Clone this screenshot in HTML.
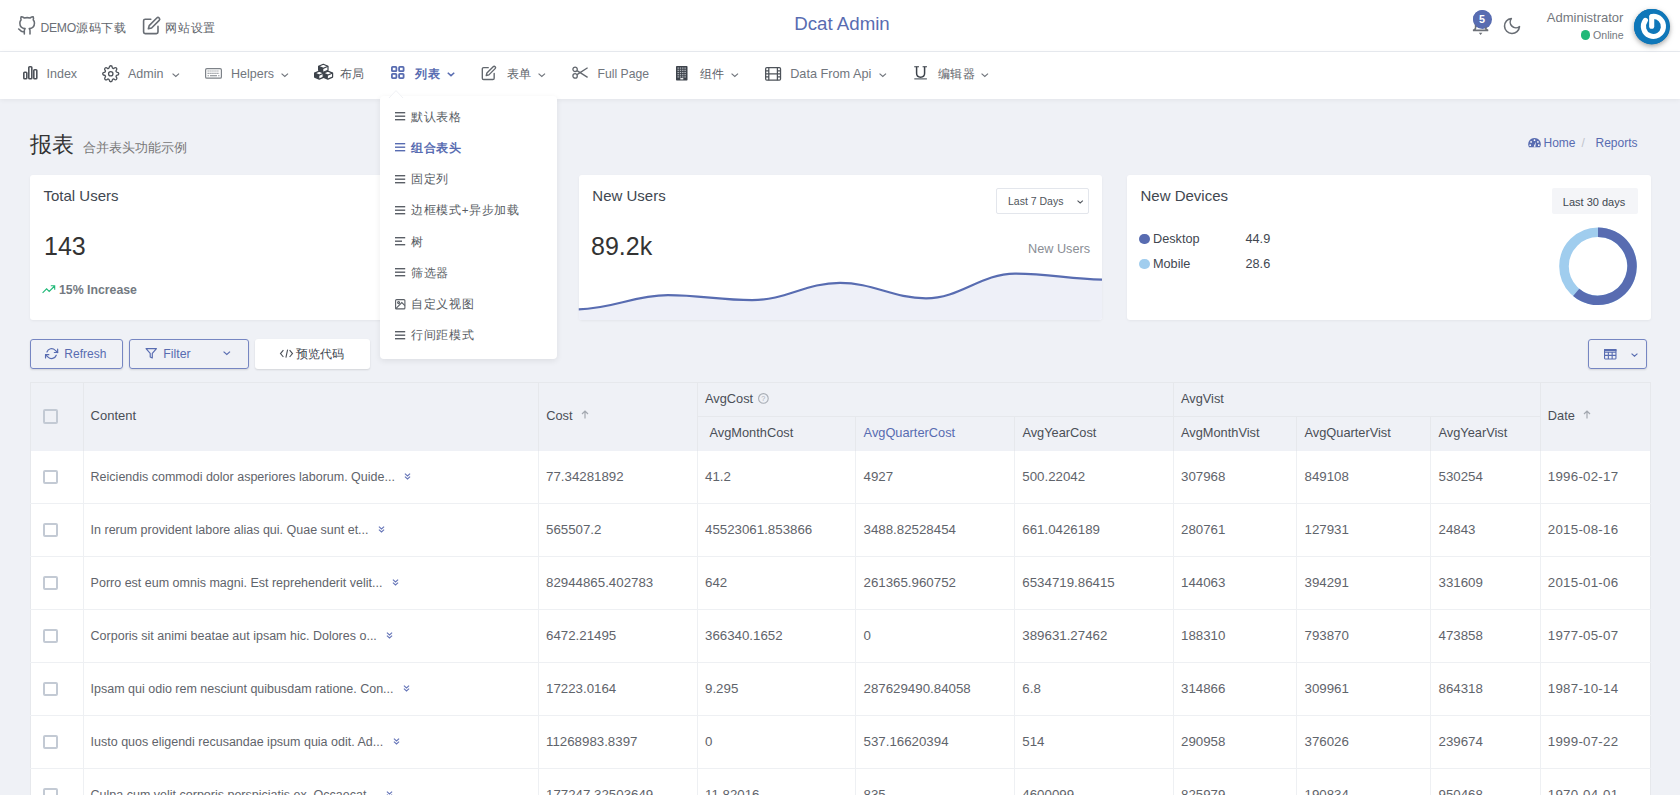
<!DOCTYPE html><html><head><meta charset="utf-8"><style>
*{box-sizing:border-box;margin:0;padding:0}
html,body{width:1680px;height:795px;overflow:hidden;background:#eff1f6;font-family:"Liberation Sans",sans-serif;color:#414750;position:relative}
.t{position:absolute;white-space:nowrap}
.bx{position:absolute}
svg{position:absolute;overflow:visible}
#top{position:absolute;left:0;top:0;width:1680px;height:52px;background:#fff;border-bottom:1px solid #e9ecf1}
#nav{position:absolute;left:0;top:52px;width:1680px;height:47px;background:#fff;box-shadow:0 1px 5px rgba(0,0,0,.06)}
.card{position:absolute;background:#fff;border-radius:3px;box-shadow:0 1px 3px rgba(0,0,0,.05)}
.btn{position:absolute;top:339px;height:30px;border:1px solid #7686c2;border-radius:3px;box-shadow:0 1px 2px rgba(0,0,0,.12)}
</style></head><body><div id="top"></div><div id="nav"></div><span class="t" style="left:40.5px;top:21.9px;font-size:12px;line-height:12px;color:#5d6269;font-weight:normal;letter-spacing:0.8px;"><span style="font-size:12.2px;letter-spacing:-0.3px;color:#6b7077">DEMO</span>源码下载</span><span class="t" style="left:165.0px;top:21.5px;font-size:12px;line-height:12px;color:#5d6269;font-weight:normal;letter-spacing:0.8px;">网站设置</span><span class="t" style="left:794.2px;top:14.7px;font-size:18.7px;line-height:18.7px;color:#586cb1;font-weight:normal;">Dcat Admin</span><span class="t" style="left:1546.8px;top:10.8px;font-size:13px;line-height:13px;color:#74787e;font-weight:normal;">Administrator</span><div class="bx" style="left:1580.5px;top:30.2px;width:9.5px;height:9.5px;border-radius:50%;background:#21b978"></div><span class="t" style="left:1593.0px;top:30.2px;font-size:10.6px;line-height:10.6px;color:#74787e;font-weight:normal;">Online</span><div class="bx" style="left:1473px;top:9.5px;width:19px;height:19px;border-radius:50%;background:#586cb1"></div><span class="t" style="left:1478.8px;top:13.9px;font-size:11px;line-height:11px;color:#fff;font-weight:bold;">5</span><div class="bx" style="left:1634px;top:8.5px;width:35.5px;height:35.5px;border-radius:50%;background:#0f77b9;box-shadow:0 2px 4px rgba(0,0,0,.2)"></div><span class="t" style="left:46.5px;top:67.5px;font-size:12.5px;line-height:12.5px;color:#71767d;font-weight:normal;">Index</span><span class="t" style="left:128.0px;top:67.5px;font-size:12.5px;line-height:12.5px;color:#71767d;font-weight:normal;">Admin</span><span class="t" style="left:231.0px;top:67.5px;font-size:12.5px;line-height:12.5px;color:#71767d;font-weight:normal;">Helpers</span><span class="t" style="left:339.5px;top:68.1px;font-size:11.6px;line-height:11.6px;color:#5d6269;font-weight:normal;letter-spacing:0.9px;">布局</span><span class="t" style="left:414.7px;top:68.1px;font-size:11.6px;line-height:11.6px;color:#586cb1;font-weight:bold;letter-spacing:0.9px;">列表</span><span class="t" style="left:506.5px;top:68.1px;font-size:11.6px;line-height:11.6px;color:#5d6269;font-weight:normal;letter-spacing:0.9px;">表单</span><span class="t" style="left:597.5px;top:67.8px;font-size:12.2px;line-height:12.2px;color:#71767d;font-weight:normal;">Full Page</span><span class="t" style="left:699.5px;top:68.1px;font-size:11.6px;line-height:11.6px;color:#5d6269;font-weight:normal;letter-spacing:0.9px;">组件</span><span class="t" style="left:790.2px;top:67.8px;font-size:12.7px;line-height:12.7px;color:#71767d;font-weight:normal;">Data From Api</span><span class="t" style="left:937.5px;top:67.9px;font-size:11.6px;line-height:11.6px;color:#5d6269;font-weight:normal;letter-spacing:0.5px;">编辑器</span><span class="t" style="left:30.0px;top:133.6px;font-size:22px;line-height:22px;color:#333;font-weight:normal;">报表</span><span class="t" style="left:83.0px;top:140.9px;font-size:13.3px;line-height:13.3px;color:#777;font-weight:normal;">合并表头功能示例</span><span class="t" style="left:1543.5px;top:136.5px;font-size:12px;line-height:12px;color:#586cb1;font-weight:normal;">Home</span><span class="t" style="left:1581.5px;top:136.5px;font-size:12px;line-height:12px;color:#c0c4cc;font-weight:normal;">/</span><span class="t" style="left:1595.5px;top:136.5px;font-size:12px;line-height:12px;color:#586cb1;font-weight:normal;">Reports</span><div class="card" style="left:30px;top:175px;width:524px;height:145px"></div><div class="card" style="left:578.5px;top:175px;width:523.5px;height:145px"></div><div class="card" style="left:1127px;top:175px;width:523.5px;height:145px"></div><span class="t" style="left:43.5px;top:188.4px;font-size:15px;line-height:15px;color:#414750;font-weight:normal;">Total Users</span><span class="t" style="left:44.0px;top:233.5px;font-size:25px;line-height:25px;color:#333;font-weight:normal;">143</span><span class="t" style="left:59.0px;top:283.5px;font-size:12.3px;line-height:12.3px;color:#737981;font-weight:bold;">15% Increase</span><span class="t" style="left:592.3px;top:188.2px;font-size:15px;line-height:15px;color:#414750;font-weight:normal;">New Users</span><span class="t" style="left:591.0px;top:234.0px;font-size:25px;line-height:25px;color:#333;font-weight:normal;">89.2k</span><div class="bx" style="left:996px;top:188px;width:93px;height:26px;border:1px solid #e3e6ec;border-radius:2px"></div><span class="t" style="left:1008.0px;top:196.2px;font-size:10.5px;line-height:10.5px;color:#50555c;font-weight:normal;">Last 7 Days</span><span class="t" style="left:1028.0px;top:242.9px;font-size:12.7px;line-height:12.7px;color:#8a8e95;font-weight:normal;">New Users</span><span class="t" style="left:1140.5px;top:188.2px;font-size:15px;line-height:15px;color:#414750;font-weight:normal;">New Devices</span><div class="bx" style="left:1552px;top:188.3px;width:85.5px;height:25.7px;background:#f4f5f8;border-radius:2px"></div><span class="t" style="left:1562.8px;top:196.7px;font-size:11px;line-height:11px;color:#414750;font-weight:normal;">Last 30 days</span><div class="bx" style="left:1139.3px;top:233.5px;width:10.5px;height:10.5px;border-radius:50%;background:#586cb1"></div><div class="bx" style="left:1139.3px;top:258.5px;width:10.5px;height:10.5px;border-radius:50%;background:#a0cdee"></div><span class="t" style="left:1153.0px;top:233.4px;font-size:12.7px;line-height:12.7px;color:#414750;font-weight:normal;">Desktop</span><span class="t" style="left:1153.0px;top:258.4px;font-size:12.7px;line-height:12.7px;color:#414750;font-weight:normal;">Mobile</span><span class="t" style="left:1245.5px;top:233.4px;font-size:12.7px;line-height:12.7px;color:#414750;font-weight:normal;">44.9</span><span class="t" style="left:1245.5px;top:258.4px;font-size:12.7px;line-height:12.7px;color:#414750;font-weight:normal;">28.6</span><div class="btn" style="left:30px;width:92.5px"></div><div class="btn" style="left:129px;width:119.5px"></div><div class="bx" style="left:255px;top:339px;width:115px;height:30px;background:#fff;border-radius:3px;box-shadow:0 1px 2px rgba(0,0,0,.12)"></div><span class="t" style="left:64.3px;top:347.9px;font-size:12px;line-height:12px;color:#586cb1;font-weight:normal;">Refresh</span><span class="t" style="left:163.3px;top:348.4px;font-size:12.3px;line-height:12.3px;color:#586cb1;font-weight:normal;">Filter</span><span class="t" style="left:296.3px;top:347.9px;font-size:12.3px;line-height:12.3px;color:#414750;font-weight:normal;">预览代码</span><svg style="left:279px;top:348px" width="16" height="12" viewBox="0 0 16 12"><path d="M4.4 2.2 L1.5 5.6 L4.4 9.0 M8.6 1.6 L6.9 9.6 M10.6 2.2 L13.5 5.6 L10.6 9.0" fill="none" stroke="#4a4f57" stroke-width="1.1"/></svg><div class="btn" style="left:1588px;width:58.5px"></div><div class="bx" style="left:30px;top:382px;width:1621px;height:69px;background:#eff1f6;border:1px solid #e6e8ec;border-bottom:none"></div><div class="bx" style="left:30px;top:451px;width:1621px;height:344px;background:#fff;border-left:1px solid #e6e8ec;border-right:1px solid #e6e8ec"></div><div class="bx" style="left:83px;top:382px;width:1px;height:69px;background:#e6e8ec"></div><div class="bx" style="left:538px;top:382px;width:1px;height:69px;background:#e6e8ec"></div><div class="bx" style="left:697px;top:382px;width:1px;height:69px;background:#e6e8ec"></div><div class="bx" style="left:855px;top:416px;width:1px;height:35px;background:#e6e8ec"></div><div class="bx" style="left:1014px;top:416px;width:1px;height:35px;background:#e6e8ec"></div><div class="bx" style="left:1173px;top:382px;width:1px;height:69px;background:#e6e8ec"></div><div class="bx" style="left:1296px;top:416px;width:1px;height:35px;background:#e6e8ec"></div><div class="bx" style="left:1430px;top:416px;width:1px;height:35px;background:#e6e8ec"></div><div class="bx" style="left:1540px;top:382px;width:1px;height:69px;background:#e6e8ec"></div><div class="bx" style="left:697px;top:416px;width:843px;height:1px;background:#e6e8ec"></div><div class="bx" style="left:83px;top:451px;width:1px;height:344px;background:#eef0f3"></div><div class="bx" style="left:538px;top:451px;width:1px;height:344px;background:#eef0f3"></div><div class="bx" style="left:697px;top:451px;width:1px;height:344px;background:#eef0f3"></div><div class="bx" style="left:855px;top:451px;width:1px;height:344px;background:#eef0f3"></div><div class="bx" style="left:1014px;top:451px;width:1px;height:344px;background:#eef0f3"></div><div class="bx" style="left:1173px;top:451px;width:1px;height:344px;background:#eef0f3"></div><div class="bx" style="left:1296px;top:451px;width:1px;height:344px;background:#eef0f3"></div><div class="bx" style="left:1430px;top:451px;width:1px;height:344px;background:#eef0f3"></div><div class="bx" style="left:1540px;top:451px;width:1px;height:344px;background:#eef0f3"></div><div class="bx" style="left:30px;top:503px;width:1621px;height:1px;background:#eef0f3"></div><div class="bx" style="left:30px;top:556px;width:1621px;height:1px;background:#eef0f3"></div><div class="bx" style="left:30px;top:609px;width:1621px;height:1px;background:#eef0f3"></div><div class="bx" style="left:30px;top:662px;width:1621px;height:1px;background:#eef0f3"></div><div class="bx" style="left:30px;top:715px;width:1621px;height:1px;background:#eef0f3"></div><div class="bx" style="left:30px;top:768px;width:1621px;height:1px;background:#eef0f3"></div><div class="bx" style="left:30px;top:821px;width:1621px;height:1px;background:#eef0f3"></div><div class="bx" style="left:43.2px;top:409.1px;width:14.6px;height:14.6px;border:2px solid #c3cad4;border-radius:2px"></div><span class="t" style="left:90.6px;top:408.7px;font-size:13px;line-height:13px;color:#4a4f57;font-weight:normal;">Content</span><span class="t" style="left:546.2px;top:409.7px;font-size:12.8px;line-height:12.8px;color:#4a4f57;font-weight:normal;">Cost</span><span class="t" style="left:705.0px;top:393.0px;font-size:12.8px;line-height:12.8px;color:#4a4f57;font-weight:normal;">AvgCost</span><span class="t" style="left:709.5px;top:427.2px;font-size:12.8px;line-height:12.8px;color:#4a4f57;font-weight:normal;">AvgMonthCost</span><span class="t" style="left:863.6px;top:427.2px;font-size:12.8px;line-height:12.8px;color:#586cb1;font-weight:normal;">AvgQuarterCost</span><span class="t" style="left:1022.4px;top:427.2px;font-size:12.8px;line-height:12.8px;color:#4a4f57;font-weight:normal;">AvgYearCost</span><span class="t" style="left:1181.0px;top:393.0px;font-size:12.8px;line-height:12.8px;color:#4a4f57;font-weight:normal;">AvgVist</span><span class="t" style="left:1181.0px;top:427.2px;font-size:12.8px;line-height:12.8px;color:#4a4f57;font-weight:normal;">AvgMonthVist</span><span class="t" style="left:1304.5px;top:427.2px;font-size:12.8px;line-height:12.8px;color:#4a4f57;font-weight:normal;">AvgQuarterVist</span><span class="t" style="left:1438.5px;top:427.2px;font-size:12.8px;line-height:12.8px;color:#4a4f57;font-weight:normal;">AvgYearVist</span><span class="t" style="left:1547.8px;top:409.7px;font-size:12.8px;line-height:12.8px;color:#4a4f57;font-weight:normal;">Date</span><div class="bx" style="left:43.2px;top:469.6px;width:14.6px;height:14.6px;border:2px solid #c3cad4;border-radius:2px"></div><span class="t" style="left:90.6px;top:470.8px;font-size:12.5px;line-height:12.5px;color:#5f646b;font-weight:normal;">Reiciendis commodi dolor asperiores laborum. Quide...<span class="chev" style="display:inline-block;width:9px;height:9px;margin-left:8.5px;position:relative;top:0px"><svg width="9" height="9" viewBox="0 0 9 9" style="left:0;top:0px"><path d="M1.9 1.6 L4.5 3.9 L7.1 1.6 M1.9 4.6 L4.5 6.9 L7.1 4.6" fill="none" stroke="#6575b8" stroke-width="1.15"/></svg></span></span><span class="t" style="left:546.0px;top:470.1px;font-size:13.3px;line-height:13.3px;color:#5f646b;font-weight:normal;">77.34281892</span><span class="t" style="left:705.0px;top:470.1px;font-size:13.3px;line-height:13.3px;color:#5f646b;font-weight:normal;">41.2</span><span class="t" style="left:863.5px;top:470.1px;font-size:13.3px;line-height:13.3px;color:#5f646b;font-weight:normal;">4927</span><span class="t" style="left:1022.3px;top:470.1px;font-size:13.3px;line-height:13.3px;color:#5f646b;font-weight:normal;">500.22042</span><span class="t" style="left:1181.0px;top:470.1px;font-size:13.3px;line-height:13.3px;color:#5f646b;font-weight:normal;">307968</span><span class="t" style="left:1304.5px;top:470.1px;font-size:13.3px;line-height:13.3px;color:#5f646b;font-weight:normal;">849108</span><span class="t" style="left:1438.5px;top:470.1px;font-size:13.3px;line-height:13.3px;color:#5f646b;font-weight:normal;">530254</span><span class="t" style="left:1547.8px;top:470.1px;font-size:13.3px;line-height:13.3px;color:#5f646b;font-weight:normal;letter-spacing:0.25px;">1996-02-17</span><div class="bx" style="left:43.2px;top:522.6px;width:14.6px;height:14.6px;border:2px solid #c3cad4;border-radius:2px"></div><span class="t" style="left:90.6px;top:523.8px;font-size:12.5px;line-height:12.5px;color:#5f646b;font-weight:normal;">In rerum provident labore alias qui. Quae sunt et...<span class="chev" style="display:inline-block;width:9px;height:9px;margin-left:8.5px;position:relative;top:0px"><svg width="9" height="9" viewBox="0 0 9 9" style="left:0;top:0px"><path d="M1.9 1.6 L4.5 3.9 L7.1 1.6 M1.9 4.6 L4.5 6.9 L7.1 4.6" fill="none" stroke="#6575b8" stroke-width="1.15"/></svg></span></span><span class="t" style="left:546.0px;top:523.1px;font-size:13.3px;line-height:13.3px;color:#5f646b;font-weight:normal;">565507.2</span><span class="t" style="left:705.0px;top:523.1px;font-size:13.3px;line-height:13.3px;color:#5f646b;font-weight:normal;">45523061.853866</span><span class="t" style="left:863.5px;top:523.1px;font-size:13.3px;line-height:13.3px;color:#5f646b;font-weight:normal;">3488.82528454</span><span class="t" style="left:1022.3px;top:523.1px;font-size:13.3px;line-height:13.3px;color:#5f646b;font-weight:normal;">661.0426189</span><span class="t" style="left:1181.0px;top:523.1px;font-size:13.3px;line-height:13.3px;color:#5f646b;font-weight:normal;">280761</span><span class="t" style="left:1304.5px;top:523.1px;font-size:13.3px;line-height:13.3px;color:#5f646b;font-weight:normal;">127931</span><span class="t" style="left:1438.5px;top:523.1px;font-size:13.3px;line-height:13.3px;color:#5f646b;font-weight:normal;">24843</span><span class="t" style="left:1547.8px;top:523.1px;font-size:13.3px;line-height:13.3px;color:#5f646b;font-weight:normal;letter-spacing:0.25px;">2015-08-16</span><div class="bx" style="left:43.2px;top:575.6px;width:14.6px;height:14.6px;border:2px solid #c3cad4;border-radius:2px"></div><span class="t" style="left:90.6px;top:576.8px;font-size:12.5px;line-height:12.5px;color:#5f646b;font-weight:normal;">Porro est eum omnis magni. Est reprehenderit velit...<span class="chev" style="display:inline-block;width:9px;height:9px;margin-left:8.5px;position:relative;top:0px"><svg width="9" height="9" viewBox="0 0 9 9" style="left:0;top:0px"><path d="M1.9 1.6 L4.5 3.9 L7.1 1.6 M1.9 4.6 L4.5 6.9 L7.1 4.6" fill="none" stroke="#6575b8" stroke-width="1.15"/></svg></span></span><span class="t" style="left:546.0px;top:576.1px;font-size:13.3px;line-height:13.3px;color:#5f646b;font-weight:normal;">82944865.402783</span><span class="t" style="left:705.0px;top:576.1px;font-size:13.3px;line-height:13.3px;color:#5f646b;font-weight:normal;">642</span><span class="t" style="left:863.5px;top:576.1px;font-size:13.3px;line-height:13.3px;color:#5f646b;font-weight:normal;">261365.960752</span><span class="t" style="left:1022.3px;top:576.1px;font-size:13.3px;line-height:13.3px;color:#5f646b;font-weight:normal;">6534719.86415</span><span class="t" style="left:1181.0px;top:576.1px;font-size:13.3px;line-height:13.3px;color:#5f646b;font-weight:normal;">144063</span><span class="t" style="left:1304.5px;top:576.1px;font-size:13.3px;line-height:13.3px;color:#5f646b;font-weight:normal;">394291</span><span class="t" style="left:1438.5px;top:576.1px;font-size:13.3px;line-height:13.3px;color:#5f646b;font-weight:normal;">331609</span><span class="t" style="left:1547.8px;top:576.1px;font-size:13.3px;line-height:13.3px;color:#5f646b;font-weight:normal;letter-spacing:0.25px;">2015-01-06</span><div class="bx" style="left:43.2px;top:628.6px;width:14.6px;height:14.6px;border:2px solid #c3cad4;border-radius:2px"></div><span class="t" style="left:90.6px;top:629.8px;font-size:12.5px;line-height:12.5px;color:#5f646b;font-weight:normal;">Corporis sit animi beatae aut ipsam hic. Dolores o...<span class="chev" style="display:inline-block;width:9px;height:9px;margin-left:8.5px;position:relative;top:0px"><svg width="9" height="9" viewBox="0 0 9 9" style="left:0;top:0px"><path d="M1.9 1.6 L4.5 3.9 L7.1 1.6 M1.9 4.6 L4.5 6.9 L7.1 4.6" fill="none" stroke="#6575b8" stroke-width="1.15"/></svg></span></span><span class="t" style="left:546.0px;top:629.1px;font-size:13.3px;line-height:13.3px;color:#5f646b;font-weight:normal;">6472.21495</span><span class="t" style="left:705.0px;top:629.1px;font-size:13.3px;line-height:13.3px;color:#5f646b;font-weight:normal;">366340.1652</span><span class="t" style="left:863.5px;top:629.1px;font-size:13.3px;line-height:13.3px;color:#5f646b;font-weight:normal;">0</span><span class="t" style="left:1022.3px;top:629.1px;font-size:13.3px;line-height:13.3px;color:#5f646b;font-weight:normal;">389631.27462</span><span class="t" style="left:1181.0px;top:629.1px;font-size:13.3px;line-height:13.3px;color:#5f646b;font-weight:normal;">188310</span><span class="t" style="left:1304.5px;top:629.1px;font-size:13.3px;line-height:13.3px;color:#5f646b;font-weight:normal;">793870</span><span class="t" style="left:1438.5px;top:629.1px;font-size:13.3px;line-height:13.3px;color:#5f646b;font-weight:normal;">473858</span><span class="t" style="left:1547.8px;top:629.1px;font-size:13.3px;line-height:13.3px;color:#5f646b;font-weight:normal;letter-spacing:0.25px;">1977-05-07</span><div class="bx" style="left:43.2px;top:681.6px;width:14.6px;height:14.6px;border:2px solid #c3cad4;border-radius:2px"></div><span class="t" style="left:90.6px;top:682.8px;font-size:12.5px;line-height:12.5px;color:#5f646b;font-weight:normal;">Ipsam qui odio rem nesciunt quibusdam ratione. Con...<span class="chev" style="display:inline-block;width:9px;height:9px;margin-left:8.5px;position:relative;top:0px"><svg width="9" height="9" viewBox="0 0 9 9" style="left:0;top:0px"><path d="M1.9 1.6 L4.5 3.9 L7.1 1.6 M1.9 4.6 L4.5 6.9 L7.1 4.6" fill="none" stroke="#6575b8" stroke-width="1.15"/></svg></span></span><span class="t" style="left:546.0px;top:682.1px;font-size:13.3px;line-height:13.3px;color:#5f646b;font-weight:normal;">17223.0164</span><span class="t" style="left:705.0px;top:682.1px;font-size:13.3px;line-height:13.3px;color:#5f646b;font-weight:normal;">9.295</span><span class="t" style="left:863.5px;top:682.1px;font-size:13.3px;line-height:13.3px;color:#5f646b;font-weight:normal;">287629490.84058</span><span class="t" style="left:1022.3px;top:682.1px;font-size:13.3px;line-height:13.3px;color:#5f646b;font-weight:normal;">6.8</span><span class="t" style="left:1181.0px;top:682.1px;font-size:13.3px;line-height:13.3px;color:#5f646b;font-weight:normal;">314866</span><span class="t" style="left:1304.5px;top:682.1px;font-size:13.3px;line-height:13.3px;color:#5f646b;font-weight:normal;">309961</span><span class="t" style="left:1438.5px;top:682.1px;font-size:13.3px;line-height:13.3px;color:#5f646b;font-weight:normal;">864318</span><span class="t" style="left:1547.8px;top:682.1px;font-size:13.3px;line-height:13.3px;color:#5f646b;font-weight:normal;letter-spacing:0.25px;">1987-10-14</span><div class="bx" style="left:43.2px;top:734.6px;width:14.6px;height:14.6px;border:2px solid #c3cad4;border-radius:2px"></div><span class="t" style="left:90.6px;top:735.8px;font-size:12.5px;line-height:12.5px;color:#5f646b;font-weight:normal;">Iusto quos eligendi recusandae ipsum quia odit. Ad...<span class="chev" style="display:inline-block;width:9px;height:9px;margin-left:8.5px;position:relative;top:0px"><svg width="9" height="9" viewBox="0 0 9 9" style="left:0;top:0px"><path d="M1.9 1.6 L4.5 3.9 L7.1 1.6 M1.9 4.6 L4.5 6.9 L7.1 4.6" fill="none" stroke="#6575b8" stroke-width="1.15"/></svg></span></span><span class="t" style="left:546.0px;top:735.1px;font-size:13.3px;line-height:13.3px;color:#5f646b;font-weight:normal;">11268983.8397</span><span class="t" style="left:705.0px;top:735.1px;font-size:13.3px;line-height:13.3px;color:#5f646b;font-weight:normal;">0</span><span class="t" style="left:863.5px;top:735.1px;font-size:13.3px;line-height:13.3px;color:#5f646b;font-weight:normal;">537.16620394</span><span class="t" style="left:1022.3px;top:735.1px;font-size:13.3px;line-height:13.3px;color:#5f646b;font-weight:normal;">514</span><span class="t" style="left:1181.0px;top:735.1px;font-size:13.3px;line-height:13.3px;color:#5f646b;font-weight:normal;">290958</span><span class="t" style="left:1304.5px;top:735.1px;font-size:13.3px;line-height:13.3px;color:#5f646b;font-weight:normal;">376026</span><span class="t" style="left:1438.5px;top:735.1px;font-size:13.3px;line-height:13.3px;color:#5f646b;font-weight:normal;">239674</span><span class="t" style="left:1547.8px;top:735.1px;font-size:13.3px;line-height:13.3px;color:#5f646b;font-weight:normal;letter-spacing:0.25px;">1999-07-22</span><div class="bx" style="left:43.2px;top:787.6px;width:14.6px;height:14.6px;border:2px solid #c3cad4;border-radius:2px"></div><span class="t" style="left:90.6px;top:788.8px;font-size:12.5px;line-height:12.5px;color:#5f646b;font-weight:normal;">Culpa cum velit corporis perspiciatis ex. Occaecat...<span class="chev" style="display:inline-block;width:9px;height:9px;margin-left:8.5px;position:relative;top:0px"><svg width="9" height="9" viewBox="0 0 9 9" style="left:0;top:0px"><path d="M1.9 1.6 L4.5 3.9 L7.1 1.6 M1.9 4.6 L4.5 6.9 L7.1 4.6" fill="none" stroke="#6575b8" stroke-width="1.15"/></svg></span></span><span class="t" style="left:546.0px;top:788.1px;font-size:13.3px;line-height:13.3px;color:#5f646b;font-weight:normal;">177247.32503649</span><span class="t" style="left:705.0px;top:788.1px;font-size:13.3px;line-height:13.3px;color:#5f646b;font-weight:normal;">11.82016</span><span class="t" style="left:863.5px;top:788.1px;font-size:13.3px;line-height:13.3px;color:#5f646b;font-weight:normal;">835</span><span class="t" style="left:1022.3px;top:788.1px;font-size:13.3px;line-height:13.3px;color:#5f646b;font-weight:normal;">4600099</span><span class="t" style="left:1181.0px;top:788.1px;font-size:13.3px;line-height:13.3px;color:#5f646b;font-weight:normal;">825979</span><span class="t" style="left:1304.5px;top:788.1px;font-size:13.3px;line-height:13.3px;color:#5f646b;font-weight:normal;">190834</span><span class="t" style="left:1438.5px;top:788.1px;font-size:13.3px;line-height:13.3px;color:#5f646b;font-weight:normal;">950468</span><span class="t" style="left:1547.8px;top:788.1px;font-size:13.3px;line-height:13.3px;color:#5f646b;font-weight:normal;letter-spacing:0.25px;">1970-04-01</span><svg style="left:17.2px;top:16.3px;" width="19.5" height="19.5" viewBox="0 0 24 24"><path fill="none" stroke-linecap="round" stroke-linejoin="round" stroke="#686d74" stroke-width="1.9" d="M9 19c-5 1.5-5-2.5-7-3m14 6v-3.87a3.37 3.37 0 0 0-.94-2.61c3.140-.35 6.44-1.54 6.44-7A5.440 5.440 0 0 0 20 4.77 5.070 5.070 0 0 0 19.91 1S18.730.65 16 2.48a13.380 13.380 0 0 0-7 0C6.270.65 5.090 1 5.090 1A5.070 5.070 0 0 0 5 4.770a5.440 5.440 0 0 0-1.500 3.780c0 5.420 3.300 6.610 6.440 7A3.370 3.370 0 0 0 9 18.130V22"/></svg><svg style="left:142.4px;top:16.2px;" width="19.2" height="19.2" viewBox="0 0 24 24"><path fill="none" stroke-linecap="round" stroke-linejoin="round" stroke="#686d74" stroke-width="2" d="M11 4H4a2 2 0 0 0-2 2v14a2 2 0 0 0 2 2h14a2 2 0 0 0 2-2v-7"/><path fill="none" stroke-linecap="round" stroke-linejoin="round" stroke="#686d74" stroke-width="2" d="M18.5 2.5a2.121 2.121 0 0 1 3 3L12 15l-4 1 1-4 9.5-9.5z"/></svg><svg style="left:1472.4px;top:22px;" width="17.2" height="15" viewBox="0 0 17.2 15"><path d="M3.6 0 V5.8 Q3.6 7.6 1 8.4 H16.2 Q13.6 7.6 13.6 5.8 V0" fill="none" stroke="#6d7178" stroke-width="1.6"/><path d="M6.8 10.8 H10.4 L8.6 13z" fill="#6d7178"/></svg><svg style="left:1473.4px;top:9.8px;" width="18" height="18" viewBox="0 0 20 20"><circle cx="10" cy="10" r="10" fill="#586cb1"/><text x="10" y="14.3" text-anchor="middle" font-family="Liberation Sans" font-weight="bold" font-size="12" fill="#fff">5</text></svg><svg style="left:1502px;top:16.1px;" width="20" height="20" viewBox="0 0 24 24"><path fill="none" stroke-linecap="round" stroke-linejoin="round" stroke="#686d74" stroke-width="1.9" d="M21 12.79A9 9 0 1 1 11.21 3 7 7 0 0 0 21 12.79z"/></svg><svg style="left:1634px;top:8.6px;filter:drop-shadow(0 2px 3px rgba(0,0,0,.18))" width="35.4" height="35.4" viewBox="0 0 36 36"><circle cx="18" cy="18" r="18" fill="#0f77b9"/><path d="M11.6 11.6 A10.2 10.2 0 1 0 18.5 7.6" fill="none" stroke="#fff" stroke-width="5.2" stroke-linecap="round"/><path d="M18 8 V17.5" stroke="#fff" stroke-width="5.2" stroke-linecap="round"/></svg><svg style="left:22.5px;top:65.5px;" width="14.5" height="13.5" viewBox="0 0 14.5 13.5"><g fill="none" stroke="#4e535a" stroke-width="1.6"><rect x="0.8" y="6.3" width="3" height="6.4" rx="0.8"/><rect x="5.8" y="0.8" width="3" height="11.9" rx="0.8"/><rect x="10.8" y="3.8" width="3" height="8.9" rx="0.8"/></g></svg><svg style="left:101.8px;top:64.5px;" width="17.5" height="17.5" viewBox="0 0 24 24"><g fill="none" stroke-linecap="round" stroke-linejoin="round" stroke="#4e535a" stroke-width="1.8"><circle cx="12" cy="12" r="3"/><path d="M19.4 15a1.65 1.65 0 0 0 .33 1.82l.06.06a2 2 0 0 1 0 2.83 2 2 0 0 1-2.83 0l-.06-.06a1.65 1.65 0 0 0-1.82-.33 1.65 1.65 0 0 0-1 1.51V21a2 2 0 0 1-2 2 2 2 0 0 1-2-2v-.09A1.65 1.65 0 0 0 9 19.4a1.65 1.65 0 0 0-1.82.33l-.06.06a2 2 0 0 1-2.83 0 2 2 0 0 1 0-2.83l.06-.06a1.65 1.65 0 0 0 .33-1.82 1.650 1.650 0 0 0-1.51-1H3a2 2 0 0 1-2-2 2 2 0 0 1 2-2h.09A1.65 1.65 0 0 0 4.6 9a1.65 1.65 0 0 0-.33-1.82l-.06-.06a2 2 0 0 1 0-2.83 2 2 0 0 1 2.830 0l.06.06a1.65 1.65 0 0 0 1.82.33H9a1.65 1.65 0 0 0 1-1.51V3a2 2 0 0 1 2-2 2 2 0 0 1 2 2v.09a1.65 1.65 0 0 0 1 1.51 1.65 1.65 0 0 0 1.82-.33l.06-.06a2 2 0 0 1 2.83 0 2 2 0 0 1 0 2.83l-.06.06a1.65 1.65 0 0 0-.33 1.82V9a1.65 1.65 0 0 0 1.51 1H21a2 2 0 0 1 2 2 2 2 0 0 1-2 2h-.09a1.65 1.65 0 0 0-1.51 1z"/></g></svg><svg style="left:205.2px;top:68.4px;" width="17" height="10.8" viewBox="0 0 17 10.8"><rect x="0.6" y="0.6" width="15.8" height="9.6" rx="1.3" fill="none" stroke="#7d8288" stroke-width="1.2"/><g stroke="#7d8288" stroke-width="1.1"><path d="M2.6 3 H14.4" stroke-dasharray="1.1 0.85"/><path d="M2.6 5.4 H14.4" stroke-dasharray="1.1 0.85"/><path d="M2.6 7.8 H3.8 M5 7.8 H12 M13.2 7.8 H14.4"/></g></svg><svg style="left:313.6px;top:64.3px;" width="19" height="16" viewBox="0 0 19 16"><polygon points="4.60,2.30 9.30,0.30 14.00,2.30 14.00,6.30 9.30,8.30 4.60,6.30" fill="#fff" stroke="#3d434b" stroke-width="1.2" stroke-linejoin="round"/><polygon points="4.60,2.30 9.30,4.30 9.30,8.30 4.60,6.30" fill="#3d434b"/><polyline points="4.60,2.30 9.30,4.30 14.00,2.30" fill="none" stroke="#3d434b" stroke-width="1.1"/><polygon points="0.60,9.10 5.30,7.10 10.00,9.10 10.00,13.10 5.30,15.10 0.60,13.10" fill="#fff" stroke="#3d434b" stroke-width="1.2" stroke-linejoin="round"/><polygon points="0.60,9.10 5.30,11.10 5.30,15.10 0.60,13.10" fill="#3d434b"/><polyline points="0.60,9.10 5.30,11.10 10.00,9.10" fill="none" stroke="#3d434b" stroke-width="1.1"/><polygon points="9.20,9.10 13.90,7.10 18.60,9.10 18.60,13.10 13.90,15.10 9.20,13.10" fill="#fff" stroke="#3d434b" stroke-width="1.2" stroke-linejoin="round"/><polygon points="9.20,9.10 13.90,11.10 13.90,15.10 9.20,13.10" fill="#3d434b"/><polyline points="9.20,9.10 13.90,11.10 18.60,9.10" fill="none" stroke="#3d434b" stroke-width="1.1"/></svg><svg style="left:391.2px;top:66.3px;" width="13.5" height="13" viewBox="0 0 13.5 13"><g fill="none" stroke="#586cb1" stroke-width="1.8"><rect x="0.9" y="0.9" width="4.5" height="4.3" rx="0.8"/><rect x="8.1" y="0.9" width="4.5" height="4.3" rx="0.8"/><rect x="0.9" y="7.8" width="4.5" height="4.3" rx="0.8"/><rect x="8.1" y="7.8" width="4.5" height="4.3" rx="0.8"/></g></svg><svg style="left:480.6px;top:65.1px;" width="15.8" height="15.8" viewBox="0 0 24 24"><path fill="none" stroke-linecap="round" stroke-linejoin="round" stroke="#62676e" stroke-width="2.1" d="M11 4H4a2 2 0 0 0-2 2v14a2 2 0 0 0 2 2h14a2 2 0 0 0 2-2v-7"/><path fill="none" stroke-linecap="round" stroke-linejoin="round" stroke="#62676e" stroke-width="2.1" d="M18.5 2.5a2.121 2.121 0 0 1 3 3L12 15l-4 1 1-4 9.5-9.5z"/></svg><svg style="left:571.5px;top:65.5px;" width="17" height="13.5" viewBox="0 0 17 13.5"><g fill="none" stroke="#62676e" stroke-width="1.3"><circle cx="3.1" cy="3.3" r="2.2"/><circle cx="3.1" cy="9.9" r="2.2"/><path d="M5 4.6 L15.6 11.4 M5 8.6 L15.6 1.8"/></g></svg><svg style="left:675.6px;top:65.7px;" width="11.5" height="14.5" viewBox="0 0 11.5 14.5"><rect x="0" y="0" width="11.5" height="14.5" rx="0.7" fill="#3d434b"/><g fill="#b9bdc3"><rect x="1.5" y="1.5" width="1.4" height="1.2"/><rect x="3.8" y="1.5" width="1.4" height="1.2"/><rect x="6.1" y="1.5" width="1.4" height="1.2"/><rect x="8.4" y="1.5" width="1.4" height="1.2"/><rect x="1.5" y="3.7" width="1.4" height="1.2"/><rect x="3.8" y="3.7" width="1.4" height="1.2"/><rect x="6.1" y="3.7" width="1.4" height="1.2"/><rect x="8.4" y="3.7" width="1.4" height="1.2"/><rect x="1.5" y="5.9" width="1.4" height="1.2"/><rect x="3.8" y="5.9" width="1.4" height="1.2"/><rect x="6.1" y="5.9" width="1.4" height="1.2"/><rect x="8.4" y="5.9" width="1.4" height="1.2"/><rect x="1.5" y="8.1" width="1.4" height="1.2"/><rect x="3.8" y="8.1" width="1.4" height="1.2"/><rect x="6.1" y="8.1" width="1.4" height="1.2"/><rect x="8.4" y="8.1" width="1.4" height="1.2"/><rect x="1.5" y="10.3" width="1.4" height="1.2"/><rect x="3.8" y="10.3" width="1.4" height="1.2"/><rect x="6.1" y="10.3" width="1.4" height="1.2"/><rect x="8.4" y="10.3" width="1.4" height="1.2"/></g><rect x="4.3" y="12.1" width="3" height="1.3" fill="#fff"/></svg><svg style="left:764.8px;top:66.8px;" width="16.2" height="13.8" viewBox="0 0 16.2 13.8"><g fill="none" stroke="#4e535a" stroke-width="1.25"><rect x="0.65" y="0.65" width="14.9" height="12.5" rx="1.2"/><path d="M3.8 0.65 V13.15 M12.4 0.65 V13.15 M0.65 3.8 H3.8 M0.65 6.9 H3.8 M0.65 10 H3.8 M12.4 3.8 H15.55 M12.4 6.9 H15.55 M12.4 10 H15.55 M3.8 6.9 H12.4"/></g></svg><svg style="left:913.8px;top:66.2px;" width="13.2" height="14" viewBox="0 0 13.2 14"><g fill="none" stroke="#3d434b"><path d="M0.2 0.7 H5 M8.6 0.7 H13" stroke-width="1.1"/><path d="M2.6 0.7 V7.3 Q2.6 11.2 6.6 11.2 Q10.6 11.2 10.6 7.3 V0.7" stroke-width="1.5"/></g><rect x="0.3" y="12.1" width="12.6" height="1.5" fill="#7d8288"/></svg><svg style="left:171.8px;top:72.5px;" width="7.6" height="5.3" viewBox="0 0 7.6 5.3"><path d="M0.575 0.575 L3.8 3.5124999999999997 L7.0249999999999995 0.575" fill="none" stroke="#70757c" stroke-width="1.15"/></svg><svg style="left:280.5px;top:72.5px;" width="7.6" height="5.3" viewBox="0 0 7.6 5.3"><path d="M0.575 0.575 L3.8 3.5124999999999997 L7.0249999999999995 0.575" fill="none" stroke="#70757c" stroke-width="1.15"/></svg><svg style="left:538px;top:72.5px;" width="7.6" height="5.3" viewBox="0 0 7.6 5.3"><path d="M0.575 0.575 L3.8 3.5124999999999997 L7.0249999999999995 0.575" fill="none" stroke="#70757c" stroke-width="1.15"/></svg><svg style="left:731px;top:72.5px;" width="7.6" height="5.3" viewBox="0 0 7.6 5.3"><path d="M0.575 0.575 L3.8 3.5124999999999997 L7.0249999999999995 0.575" fill="none" stroke="#70757c" stroke-width="1.15"/></svg><svg style="left:879px;top:72.5px;" width="7.6" height="5.3" viewBox="0 0 7.6 5.3"><path d="M0.575 0.575 L3.8 3.5124999999999997 L7.0249999999999995 0.575" fill="none" stroke="#70757c" stroke-width="1.15"/></svg><svg style="left:981.3px;top:72.5px;" width="7.6" height="5.3" viewBox="0 0 7.6 5.3"><path d="M0.575 0.575 L3.8 3.5124999999999997 L7.0249999999999995 0.575" fill="none" stroke="#70757c" stroke-width="1.15"/></svg><svg style="left:447.2px;top:72.4px;" width="8" height="5.5" viewBox="0 0 8 5.5"><path d="M0.75 0.75 L4.0 3.625 L7.25 0.75" fill="none" stroke="#586cb1" stroke-width="1.5"/></svg><svg style="left:1527.5px;top:137.6px;" width="13" height="9.5" viewBox="0 0 13 9.5"><path d="M1.02 9.3 A6.3 6.3 0 1 1 11.98 9.3z" fill="#586cb1"/><g fill="#fff"><circle cx="6.5" cy="2.2" r="0.85"/><circle cx="3.1" cy="3.9" r="0.85"/><circle cx="9.9" cy="3.9" r="0.85"/><circle cx="2.2" cy="7.2" r="0.85"/><circle cx="10.8" cy="7.2" r="0.85"/><path d="M5.7 8.4 L7.9 3.8 L7.3 8.9z"/></g></svg><svg style="left:41.8px;top:284.5px;" width="13.5" height="8.5" viewBox="0 0 13.5 8.5"><path d="M0.6 7.8 L4.6 3.8 L7.2 6.4 L12.6 1 M8.8 0.8 H12.7 V4.7" fill="none" stroke="#21b978" stroke-width="1.1"/></svg><svg style="left:1077px;top:200.3px;" width="6.4" height="4.7" viewBox="0 0 6.4 4.7"><path d="M0.525 0.525 L3.2 2.9375 L5.875 0.525" fill="none" stroke="#50555c" stroke-width="1.05"/></svg><svg style="left:45.2px;top:346.6px;" width="13.2" height="13.2" viewBox="0 0 24 24"><g fill="none" stroke-linecap="round" stroke-linejoin="round" stroke="#586cb1" stroke-width="2.2"><polyline points="23 4 23 10 17 10"/><polyline points="1 20 1 14 7 14"/><path d="M3.51 9a9 9 0 0 1 14.85-3.36L23 10M1 14l4.64 4.36A9 9 0 0 0 20.49 15"/></g></svg><svg style="left:144.5px;top:346.5px;" width="12.5" height="12.5" viewBox="0 0 24 24"><polygon fill="none" stroke-linecap="round" stroke-linejoin="round" stroke="#586cb1" stroke-width="2.2" points="22 3 2 3 10 12.46 10 19 14 21 14 12.46 22 3"/></svg><svg style="left:222.8px;top:351.4px;" width="7.6" height="5.3" viewBox="0 0 7.6 5.3"><path d="M0.575 0.575 L3.8 3.5124999999999997 L7.0249999999999995 0.575" fill="none" stroke="#586cb1" stroke-width="1.15"/></svg><svg style="left:1603.5px;top:348.5px;" width="12.5" height="10.5" viewBox="0 0 12.5 10.5"><g fill="none" stroke="#586cb1" stroke-width="1.1"><rect x="0.55" y="0.55" width="11.4" height="9.4" rx="0.6"/><path d="M0.55 3.2 H11.95 M0.55 6.4 H11.95 M4.35 3.2 V9.95 M8.15 3.2 V9.95"/></g><rect x="0" y="0" width="12.5" height="2.2" fill="#586cb1" rx="0.6"/></svg><svg style="left:1630.5px;top:352.5px;" width="7" height="5.0" viewBox="0 0 7 5.0"><path d="M0.575 0.575 L3.5 3.2125 L6.425 0.575" fill="none" stroke="#586cb1" stroke-width="1.15"/></svg><svg style="left:580.5px;top:410.3px;" width="8" height="9" viewBox="0 0 8 9"><path d="M4 8.5 V1 M1 4 L4 1 L7 4" fill="none" stroke="#a3a8b0" stroke-width="1.2"/></svg><svg style="left:1582.8px;top:410.3px;" width="8" height="9" viewBox="0 0 8 9"><path d="M4 8.5 V1 M1 4 L4 1 L7 4" fill="none" stroke="#a3a8b0" stroke-width="1.2"/></svg><svg style="left:757.8px;top:393.4px;" width="10.8" height="10.8" viewBox="0 0 11 11"><circle cx="5.5" cy="5.5" r="4.9" fill="none" stroke="#a9aeb6" stroke-width="1.1"/><text x="5.5" y="8.2" text-anchor="middle" font-family="Liberation Sans" font-size="7.5" fill="#a9aeb6">?</text></svg><svg style="left:0;top:0" width="1680" height="795" viewBox="0 0 1680 795"><defs><clipPath id="c2"><rect x="578.5" y="175" width="523.5" height="145" rx="3"/></clipPath></defs><g clip-path="url(#c2)"><path d="M578.5 309.3 C612.9 308.8 633.6 295.2 668 295.2 C700.3 295.2 719.7 300.2 752 300.2 C785.8 300.2 806.2 282.8 840 282.8 C873.1 282.8 892.9 298.3 926 298.3 C960.2 298.3 980.8 273.6 1015 273.6 C1048.5 273.6 1068.5 278.8 1102 279.6 L1102 320 L578.5 320z" fill="#eef0f8"/><path d="M578.5 309.3 C612.9 308.8 633.6 295.2 668 295.2 C700.3 295.2 719.7 300.2 752 300.2 C785.8 300.2 806.2 282.8 840 282.8 C873.1 282.8 892.9 298.3 926 298.3 C960.2 298.3 980.8 273.6 1015 273.6 C1048.5 273.6 1068.5 278.8 1102 279.6" fill="none" stroke="#586cb1" stroke-width="2.2"/></g></svg><svg style="left:0;top:0" width="1680" height="795" viewBox="0 0 1680 795"><circle cx="1598" cy="266.3" r="34.0" fill="none" stroke="#a0cdee" stroke-width="9.6"/><path d="M1598 232.3 A34.0 34.0 0 1 1 1576.18 292.38" fill="none" stroke="#586cb1" stroke-width="9.6"/></svg><div class="bx" style="left:380px;top:96.4px;width:176.7px;height:262.4px;background:#fff;border-radius:4px;box-shadow:0 2px 6px rgba(0,0,0,.08)"></div><svg style="left:388.5px;top:89.5px;" width="14" height="8" viewBox="0 0 14 8"><path d="M0 8 L7 0.6 L14 8" fill="#fff" stroke="#eceef2" stroke-width="0.8"/></svg><svg style="left:395px;top:112.10000000000001px;" width="10.5" height="8.5" viewBox="0 0 10.5 8.5"><g fill="#5a5f66"><rect x="0" y="0" width="10.2" height="1.4"/><rect x="0" y="3.5" width="10.2" height="1.4"/><rect x="0" y="7" width="10.2" height="1.4"/></g></svg><span class="t" style="left:411.3px;top:110.5px;font-size:11.6px;line-height:11.6px;color:#575c63;font-weight:normal;letter-spacing:0.6px;">默认表格</span><svg style="left:395px;top:143.35px;" width="10.5" height="8.5" viewBox="0 0 10.5 8.5"><g fill="#586cb1"><rect x="0" y="0" width="10.2" height="1.4"/><rect x="0" y="3.5" width="10.2" height="1.4"/><rect x="0" y="7" width="10.2" height="1.4"/></g></svg><span class="t" style="left:411.3px;top:141.7px;font-size:11.6px;line-height:11.6px;color:#586cb1;font-weight:bold;letter-spacing:0.6px;">组合表头</span><svg style="left:395px;top:174.6px;" width="10.5" height="8.5" viewBox="0 0 10.5 8.5"><g fill="#5a5f66"><rect x="0" y="0" width="10.2" height="1.4"/><rect x="0" y="3.5" width="10.2" height="1.4"/><rect x="0" y="7" width="10.2" height="1.4"/></g></svg><span class="t" style="left:411.3px;top:173.0px;font-size:11.6px;line-height:11.6px;color:#575c63;font-weight:normal;letter-spacing:0.6px;">固定列</span><svg style="left:395px;top:205.85px;" width="10.5" height="8.5" viewBox="0 0 10.5 8.5"><g fill="#5a5f66"><rect x="0" y="0" width="10.2" height="1.4"/><rect x="0" y="3.5" width="10.2" height="1.4"/><rect x="0" y="7" width="10.2" height="1.4"/></g></svg><span class="t" style="left:411.3px;top:204.2px;font-size:11.6px;line-height:11.6px;color:#575c63;font-weight:normal;letter-spacing:0.6px;">边框模式+异步加载</span><svg style="left:395px;top:237.1px;" width="10.5" height="8.5" viewBox="0 0 10.5 8.5"><g fill="#5a5f66"><rect x="0" y="0" width="10.2" height="1.4"/><rect x="0" y="3.5" width="7" height="1.4"/><rect x="0" y="7" width="10.2" height="1.4"/></g></svg><span class="t" style="left:411.3px;top:235.5px;font-size:11.6px;line-height:11.6px;color:#575c63;font-weight:normal;letter-spacing:0.6px;">树</span><svg style="left:395px;top:268.34999999999997px;" width="10.5" height="8.5" viewBox="0 0 10.5 8.5"><g fill="#5a5f66"><rect x="0" y="0" width="10.2" height="1.4"/><rect x="0" y="3.5" width="10.2" height="1.4"/><rect x="0" y="7" width="10.2" height="1.4"/></g></svg><span class="t" style="left:411.3px;top:266.7px;font-size:11.6px;line-height:11.6px;color:#575c63;font-weight:normal;letter-spacing:0.6px;">筛选器</span><svg style="left:395px;top:298.59999999999997px;" width="10.5" height="10.5" viewBox="0 0 10.5 10.5"><g fill="none" stroke="#5a5f66" stroke-width="1.1"><rect x="0.6" y="0.6" width="9.3" height="9.3" rx="1"/><circle cx="3.6" cy="3.6" r="1"/><path d="M9.9 6.6 L6.8 3.6 L0.6 9.8"/></g></svg><span class="t" style="left:411.3px;top:298.0px;font-size:11.6px;line-height:11.6px;color:#575c63;font-weight:normal;letter-spacing:0.6px;">自定义视图</span><svg style="left:395px;top:330.84999999999997px;" width="10.5" height="8.5" viewBox="0 0 10.5 8.5"><g fill="#5a5f66"><rect x="0" y="0" width="10.2" height="1.4"/><rect x="0" y="3.5" width="10.2" height="1.4"/><rect x="0" y="7" width="10.2" height="1.4"/></g></svg><span class="t" style="left:411.3px;top:329.2px;font-size:11.6px;line-height:11.6px;color:#575c63;font-weight:normal;letter-spacing:0.6px;">行间距模式</span></body></html>
